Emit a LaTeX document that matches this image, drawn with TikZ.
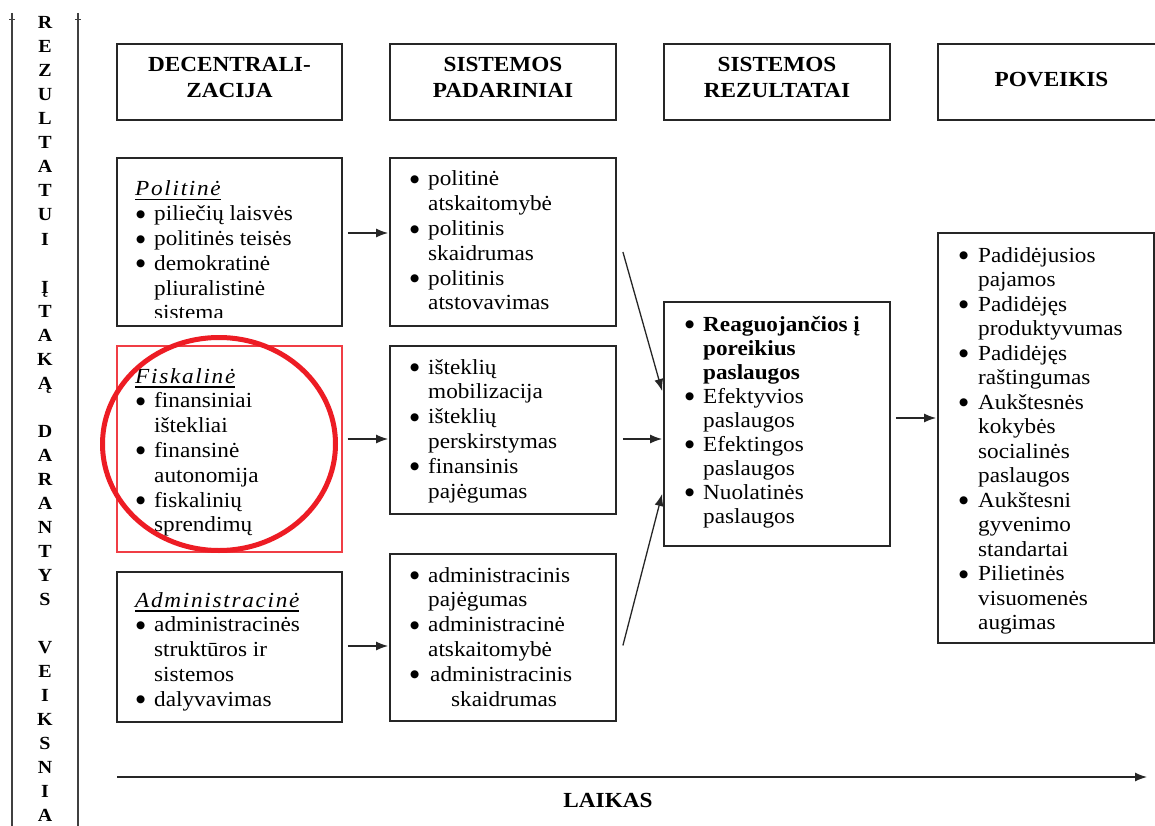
\documentclass[tikz,border=0pt]{standalone}
\usepackage{fontspec}
\setmainfont{Liberation Serif}[FakeStretch=1.08]
\newfontfamily\djv{DejaVu Sans}
\usetikzlibrary{arrows.meta,calc}
\newcommand\bul{\raisebox{3.5pt}{\djv\fontsize{10.5}{10.5}\selectfont ●}}
\newcommand\bi[2]{\par\noindent\hangindent=#1\hangafter=1\makebox[#1][l]{\hspace{1pt}\bul}#2}
\newcommand\tit[1]{\setbox0\hbox{\itshape\addfontfeature{LetterSpace=8}#1}\rlap{\smash{\rule[-4.5pt]{\wd0}{1.8pt}}}\box0}
\newcommand\blk[2]{\parbox[t]{#1}{\parskip=0pt\relax #2}}
\begin{document}
\begin{tikzpicture}[x=1pt, y=-1pt,
  font=\fontsize{21.5}{24.8}\selectfont,
  bx/.style={draw=black!85, line width=1.8pt, inner sep=0pt},
  txt/.style={anchor=base west, inner sep=0pt},
  hd/.style={anchor=base, inner sep=0pt, font=\fontsize{21.5}{26}\selectfont\bfseries},
  arr/.style={-{Latex[length=12pt,width=9pt]}, line width=1.3pt, black!85}]
\useasboundingbox (0,0) rectangle (1155,826);
\fill[white] (0,0) rectangle (1155,826);
\definecolor{redc}{RGB}{237,28,36}

% side column
\draw[line width=1.5pt, black!75] (12,13) -- (12,826);
\draw[line width=1.5pt, black!75] (78,13) -- (78,826);
\draw[line width=1pt, black!75] (9,20) -- (15,20);
\draw[line width=1pt, black!75] (75,20) -- (81,20);
\foreach \l [count=\i from 0] in {R,E,Z,U,L,T,A,T,U,I,{},Į,T,A,K,Ą,{},D,A,R,A,N,T,Y,S,{},V,E,I,K,S,N,I,A}
  \node[anchor=base, inner sep=0pt, font=\fontsize{18.5}{20}\selectfont\bfseries] (v\i) at (45, {29+\i*24}) {\l};

% header boxes
\node[bx, minimum width=225pt, minimum height=76pt] (h1) at (229.5,82) {};
\node[bx, minimum width=226pt, minimum height=76pt] (h2) at (503,82) {};
\node[bx, minimum width=226pt, minimum height=76pt] (h3) at (777,82) {};
\node[bx, minimum width=227pt, minimum height=76pt] (h4) at (1051.5,82) {};
\node[hd] (h1t) at (229.5,72) {\parbox[t]{220pt}{\centering DECENTRALI-\\ZACIJA}};
\node[hd] (h2t) at (503,72) {\parbox[t]{220pt}{\centering SISTEMOS\\PADARINIAI}};
\node[hd] (h3t) at (777,72) {\parbox[t]{220pt}{\centering SISTEMOS\\REZULTATAI}};
\node[hd] (h4t) at (1051.5,87) {POVEIKIS};

% boxes
\node[bx, minimum width=225pt, minimum height=168pt] (pol) at (229.5,242) {};
\node[draw=redc!85, line width=1.2pt, inner sep=0pt, minimum width=225pt, minimum height=206pt] (fis) at (229.5,449) {};
\node[bx, minimum width=225pt, minimum height=150pt] (adm) at (229.5,647) {};
\node[bx, minimum width=226pt, minimum height=168pt] (A) at (503,242) {};
\node[bx, minimum width=226pt, minimum height=168pt] (B) at (503,430) {};
\node[bx, minimum width=226pt, minimum height=167pt] (C) at (503,637.5) {};
\node[bx, minimum width=226pt, minimum height=244pt] (ctr) at (777,424) {};
\node[bx, minimum width=216pt, minimum height=410pt] (R) at (1046,438) {};

% left texts
\begin{scope}
\clip (pol.north west) rectangle ($(pol.south east)+(0,-9)$);
\node[txt] (polt) at (135,196) {\blk{200pt}{\noindent\tit{Politinė}
  \bi{19pt}{piliečių laisvės}
  \bi{19pt}{politinės teisės}
  \bi{19pt}{demokratinė\\pliuralistinė\\sistema}}};
\end{scope}
\node[txt] (fist) at (135,383) {\blk{200pt}{\noindent\tit{Fiskalinė}
  \bi{19pt}{finansiniai\\ištekliai}
  \bi{19pt}{finansinė\\autonomija}
  \bi{19pt}{fiskalinių\\sprendimų}}};
\node[txt] (admt) at (135,607) {\blk{200pt}{\noindent\tit{Administracinė}
  \bi{19pt}{administracinės\\struktūros ir\\sistemos}
  \bi{19pt}{dalyvavimas}}};

% middle texts
\node[txt] (At) at (409,186) {\blk{205pt}{%
  \bi{19pt}{politinė\\atskaitomybė}
  \bi{19pt}{politinis\\skaidrumas}
  \bi{19pt}{politinis\\atstovavimas}}};
\node[txt] (Bt) at (409,374) {\blk{205pt}{%
  \bi{19pt}{išteklių\\mobilizacija}
  \bi{19pt}{išteklių\\perskirstymas}
  \bi{19pt}{finansinis\\pajėgumas}}};
\node[txt] (Ct) at (409,582) {\blk{205pt}{%
  \bi{19pt}{administracinis\\pajėgumas}
  \bi{19pt}{administracinė\\atskaitomybė}
  \bi{19pt}{\hspace{2pt}administracinis\\\hspace*{23pt}skaidrumas}}};

% center and right texts
\node[txt] (ctrt) at (684,331) {\blk{205pt}{\baselineskip=24pt
  \bi{19pt}{\textbf{Reaguojančios į\\poreikius\\paslaugos}}
  \bi{19pt}{Efektyvios\\paslaugos}
  \bi{19pt}{Efektingos\\paslaugos}
  \bi{19pt}{Nuolatinės\\paslaugos}}};
\node[txt] (Rt) at (958,262) {\blk{195pt}{\baselineskip=24.5pt
  \bi{20pt}{Padidėjusios\\pajamos}
  \bi{20pt}{Padidėjęs\\produktyvumas}
  \bi{20pt}{Padidėjęs\\raštingumas}
  \bi{20pt}{Aukštesnės\\kokybės\\socialinės\\paslaugos}
  \bi{20pt}{Aukštesni\\gyvenimo\\standartai}
  \bi{20pt}{Pilietinės\\visuomenės\\augimas}}};

% red circle
\draw[redc, line width=5pt] (219,444) ellipse [x radius=116.5, y radius=106.5];

% connectors
\draw[arr] ($(pol.east)+(5,-9)$) -- ($(A.west)+(-1,-9)$);
\draw[arr] ($(fis.east)+(5,-10)$) -- ($(B.west)+(-1,9)$);
\draw[arr] ($(adm.east)+(5,-1)$) -- ($(C.west)+(-1,8.5)$);
\draw[arr] ($(A.east)+(6,10)$) -- ($(ctr.west)+(-1,-33)$);
\draw[arr] ($(B.east)+(6,9)$) -- ($(ctr.west)+(-1,15)$);
\draw[arr] ($(C.east)+(6,8)$) -- ($(ctr.west)+(-1,70)$);
\draw[arr] ($(ctr.east)+(5,-6)$) -- ($(R.west)+(-1,-20)$);

% time axis
\coordinate (t0) at (117,777);
\coordinate (t1) at (1147,777);
\draw[arr] (t0) -- (t1);
\node[hd] (laikas) at (608,807) {LAIKAS};
\end{tikzpicture}
\end{document}
